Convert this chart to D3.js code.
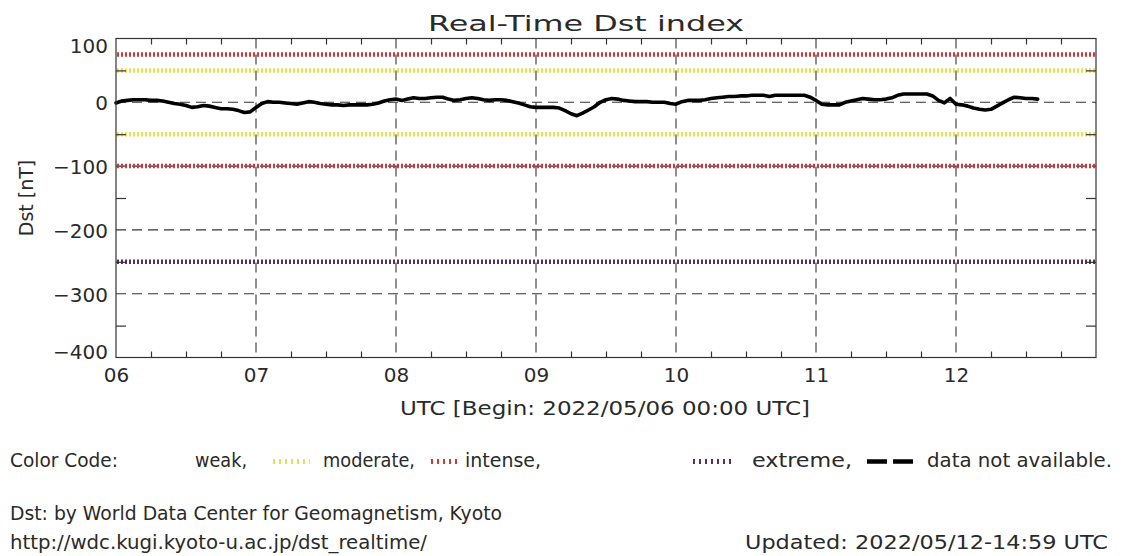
<!DOCTYPE html>
<html>
<head>
<meta charset="utf-8">
<script src="https://cdn.jsdelivr.net/npm/d3@7"></script>
<style>
  html, body { margin: 0; padding: 0; background: #fff; }
  svg { display: block; }
  text { font-family: "DejaVu Sans", sans-serif; fill: #2a2a2a; }
</style>
</head>
<body>
<svg id="chart" width="1140" height="556"></svg>
<script>
// ---------- data ----------
const beginTime = "2022-05-06T00:00:00Z";
const endTime = "2022-05-13T00:00:00Z";
const dayLabels = ["06", "07", "08", "09", "10", "11", "12"];
const yTickValues = [100, 0, -100, -200, -300, -400];
const yMinorValues = [50, -50, -150, -250, -350];
const yGridValues = [0, -100, -200, -300];
// hourly Dst [nT], starting 2022/05/06 00 UTC
const dst = [
  -1, 2, 3, 4, 4, 4, 3, 3, 2, 0, -2, -3, -5, -8, -7, -5, -6, -8, -10, -10, -11, -13, -16, -15,
  -8, -2, 1, 0, 0, -1, -2, -3, -1, 1, 0, -2, -3, -4, -4, -5, -4, -4, -4, -4, -3, -1, 2, 4,
  5, 3, 5, 7, 6, 6, 7, 8, 8, 5, 3, 4, 6, 7, 6, 4, 3, 4, 4, 3, 1, -1, -4, -7,
  -8, -8, -8, -8, -9, -13, -18, -21, -17, -12, -7, 0, 4, 6, 5, 3, 2, 1, 1, 1, 0, 0, 0, -2,
  -3, 1, 3, 3, 3, 4, 6, 7, 8, 9, 9, 10, 10, 11, 11, 11, 9, 11, 11, 11, 11, 11, 11, 8,
  3, -3, -4, -4, -4, 0, 2, 4, 6, 5, 4, 4, 5, 7, 11, 13, 13, 13, 13, 13, 10, 3, -1, 6,
  -3, -4, -6, -9, -11, -12, -11, -6, -1, 4, 8, 7, 6, 6, 5
];
const levelValues = [75, 50, -50, -100, -250];
const levelKinds = ["intense", "moderate", "moderate", "intense", "extreme"];
const legendLabels = ["weak,", "moderate,", "intense,", "extreme,", "data not available."];

// ---------- styles ----------
const levelColor = { moderate: "#e9df55", intense: "#cc3a3f", extreme: "#5a2f60" };

const svg = d3.select("#chart");
const L = 116, R = 1096, T = 38.5, B = 357.5;

const t0 = new Date(beginTime);
const x = d3.scaleUtc().domain([t0, new Date(endTime)]).range([L, R]);
const y = d3.scaleLinear().domain([-400, 100]).range([B, T]);

const dayDates = dayLabels.map((d, i) => d3.utcDay.offset(t0, i));
const gridDays = dayDates.slice(1);
const minorHours = d3.utcHour.every(6).range(t0, new Date(endTime)).filter(d => d.getUTCHours() !== 0);

const series = dst.map((v, i) => ({ t: d3.utcHour.offset(t0, i), v }));

// ---------- grid ----------
const grid = svg.append("g").attr("stroke", "#333").attr("stroke-width", 1.1).attr("stroke-dasharray", "10,6");
grid.selectAll("line.h").data(yGridValues).join("line")
  .attr("x1", L).attr("x2", R).attr("y1", d => y(d)).attr("y2", d => y(d));
grid.selectAll("line.v").data(gridDays).join("line")
  .attr("x1", d => x(d)).attr("x2", d => x(d)).attr("y1", T).attr("y2", B);

// ---------- threshold levels ----------
svg.append("g").selectAll("line").data(levelValues).join("line")
  .attr("x1", L + 1).attr("x2", R - 1)
  .attr("y1", d => y(d)).attr("y2", d => y(d))
  .attr("stroke", (d, i) => levelColor[levelKinds[i]])
  .attr("stroke-width", 4.5)
  .attr("stroke-dasharray", "2,2");

// ---------- data line ----------
svg.append("path").datum(series)
  .attr("fill", "none").attr("stroke", "#000").attr("stroke-width", 3.6)
  .attr("stroke-linejoin", "round").attr("stroke-linecap", "round")
  .attr("d", d3.line().x(d => x(d.t)).y(d => y(d.v)));

// ---------- frame & ticks ----------
svg.append("rect").attr("x", L).attr("y", T).attr("width", R - L).attr("height", B - T)
  .attr("fill", "none").attr("stroke", "#333").attr("stroke-width", 1.2);

const tickStyle = g => { g.select(".domain").remove(); g.selectAll(".tick line").attr("stroke", "#333").attr("stroke-width", 1.2); };

// minor x ticks bottom & top
svg.append("g").attr("transform", `translate(0,${B})`)
  .call(d3.axisBottom(x).tickValues(minorHours).tickSize(-6).tickFormat(""))
  .call(tickStyle);
svg.append("g").attr("transform", `translate(0,${T})`)
  .call(d3.axisTop(x).tickValues(minorHours).tickSize(-6).tickFormat(""))
  .call(tickStyle);
// minor y ticks left & right
svg.append("g").attr("transform", `translate(${L},0)`)
  .call(d3.axisLeft(y).tickValues(yMinorValues).tickSize(-10).tickFormat(""))
  .call(tickStyle);
svg.append("g").attr("transform", `translate(${R},0)`)
  .call(d3.axisRight(y).tickValues(yMinorValues).tickSize(-10).tickFormat(""))
  .call(tickStyle);

// x tick labels
const xAxis = svg.append("g").attr("transform", `translate(0,${B})`)
  .call(d3.axisBottom(x).tickValues(dayDates).tickSize(0).tickPadding(8)
    .tickFormat((d, i) => dayLabels[i]));
xAxis.select(".domain").remove();
xAxis.selectAll("text").attr("font-size", 20).attr("font-family", "DejaVu Sans").attr("fill", "#2a2a2a")
  .attr("dy", null).attr("y", 24);

// y tick labels (end labels pulled inside like the original)
const yAxis = svg.append("g").attr("transform", `translate(${L},0)`)
  .call(d3.axisLeft(y).tickValues(yTickValues).tickSize(0).tickPadding(8));
yAxis.select(".domain").remove();
yAxis.selectAll("text").attr("font-size", 20).attr("font-family", "DejaVu Sans").attr("fill", "#2a2a2a")
  .attr("dy", (d, i) => i === 0 ? "0.69em" : (i === yTickValues.length - 1 ? "0.07em" : "0.38em"));

// ---------- titles ----------
svg.append("text").attr("x", 428).attr("y", 31).attr("font-size", 22)
  .attr("textLength", 316).attr("lengthAdjust", "spacingAndGlyphs").text("Real-Time Dst index");

svg.append("text").attr("transform", `translate(33,${(T + B) / 2}) rotate(-90)`)
  .attr("text-anchor", "middle").attr("font-size", 19).text("Dst [nT]");

svg.append("text").attr("x", 400).attr("y", 415).attr("font-size", 19)
  .attr("textLength", 410).attr("lengthAdjust", "spacingAndGlyphs")
  .text("UTC [Begin: 2022/05/06 00:00 UTC]");

// ---------- legend ----------
const lg = svg.append("g");
const ly = 466.5, lsy = 461.5;
lg.append("text").attr("x", 10).attr("y", ly).attr("font-size", 19)
  .attr("textLength", 108).attr("lengthAdjust", "spacingAndGlyphs").text("Color Code:");
const legendTextPos = [[195, 52], [323, 92], [465, 76], [752, 100], [927, 185]];
lg.selectAll("text.item").data(legendLabels).join("text").attr("class", "item")
  .attr("x", (d, i) => legendTextPos[i][0]).attr("y", ly).attr("font-size", 19)
  .attr("textLength", (d, i) => legendTextPos[i][1]).attr("lengthAdjust", "spacingAndGlyphs")
  .text(d => d);
const legendSamples = [
  { kind: "moderate", x1: 273, x2: 310 },
  { kind: "intense", x1: 431, x2: 459 },
  { kind: "extreme", x1: 693, x2: 732 }
];
lg.selectAll("line.s").data(legendSamples).join("line")
  .attr("x1", d => d.x1).attr("x2", d => d.x2).attr("y1", lsy).attr("y2", lsy)
  .attr("stroke", d => levelColor[d.kind]).attr("stroke-width", 5).attr("stroke-dasharray", "2,4");
lg.append("line").attr("x1", 867).attr("x2", 913).attr("y1", lsy).attr("y2", lsy)
  .attr("stroke", "#000").attr("stroke-width", 4.5).attr("stroke-dasharray", "20,6");

// ---------- footer ----------
svg.append("text").attr("x", 10).attr("y", 520).attr("font-size", 19)
  .attr("textLength", 492).attr("lengthAdjust", "spacingAndGlyphs")
  .text("Dst: by World Data Center for Geomagnetism, Kyoto");
svg.append("text").attr("x", 10).attr("y", 549).attr("font-size", 19)
  .attr("textLength", 417).attr("lengthAdjust", "spacingAndGlyphs")
  .text("http://wdc.kugi.kyoto-u.ac.jp/dst_realtime/");
svg.append("text").attr("x", 745).attr("y", 549).attr("font-size", 19)
  .attr("textLength", 363).attr("lengthAdjust", "spacingAndGlyphs")
  .text("Updated: 2022/05/12-14:59 UTC");
</script>
</body>
</html>
